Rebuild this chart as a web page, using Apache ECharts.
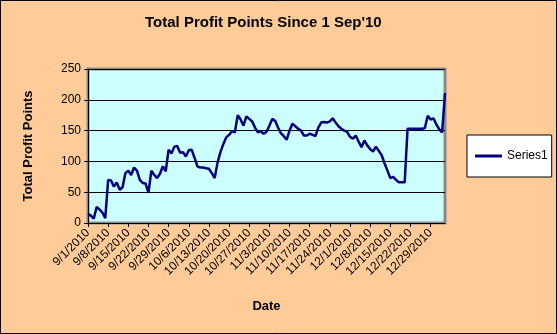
<!DOCTYPE html>
<html>
<head>
<meta charset="utf-8">
<script src="https://cdn.jsdelivr.net/npm/echarts@6/dist/echarts.min.js"></script>
<style>
html,body{margin:0;padding:0;background:#FFCC99;}
#c{width:557px;height:334px;}
</style>
</head>
<body>
<div id="c"></div>
<script>
// Daily categories from 9/1/2010 to 1/3/2011
const startDate = [2010, 8, 1];
const dayCount = 125;
const categories = [];
for (let i = 0; i < dayCount; i++) {
  const d = new Date(startDate[0], startDate[1], startDate[2] + i);
  categories.push((d.getMonth() + 1) + '/' + d.getDate() + '/' + d.getFullYear());
}
const seriesName = 'Series1';
const profitPoints = [
  15, 12, 7, 26, 22, 17, 8, 70, 69, 59,
  66, 54, 58, 81, 85, 78, 90, 85, 70, 65,
  64, 49, 85, 78, 73, 80, 92, 84, 119, 113,
  124, 125, 114, 115, 108, 118, 119, 106, 92, 90,
  90, 89, 88, 81, 73, 98, 115, 128, 139, 143,
  149, 147, 175, 168, 158, 173, 169, 165, 155, 147,
  149, 145, 148, 158, 169, 166, 155, 146, 141, 135,
  150, 161, 157, 153, 150, 142, 142, 145, 143, 141,
  155, 163, 164, 163, 165, 170, 163, 157, 153, 150,
  148, 140, 137, 142, 132, 123, 134, 126, 120, 116,
  124, 117, 110, 97, 85, 73, 75, 70, 66, 66,
  66, 153, 153, 153, 153, 153, 153, 154, 174, 168,
  170, 160, 152, 147, 211
];
const yTicks = [0, 50, 100, 150, 200, 250];

const FONT = 'Liberation Sans, Arial, sans-serif';
const chart = echarts.init(document.getElementById('c'), null, {renderer: 'canvas'});
chart.setOption({
  backgroundColor: '#FFCC99',
  animation: false,
  title: {
    text: "Total Profit Points Since 1 Sep'10",
    left: 145, top: 15, padding: 0,
    textStyle: {fontFamily: FONT, fontSize: 15, fontWeight: 'bold', color: '#000'}
  },
  legend: {
    data: [{name: seriesName, icon: 'rect'}],
    left: 467, top: 135,
    padding: [14, 4, 14, 8],
    backgroundColor: '#fff', borderColor: '#000', borderWidth: 1, borderRadius: 0,
    itemWidth: 27, itemHeight: 3,
    itemStyle: {color: '#000080'},
    textStyle: {fontFamily: FONT, fontSize: 12, color: '#000', lineHeight: 14}
  },
  grid: {
    left: 88, right: 112, top: 69, bottom: 111,
    show: true, backgroundColor: '#CCFFFF', borderColor: '#8a8a8a', borderWidth: 3
  },
  xAxis: {
    type: 'category',
    data: categories,
    boundaryGap: false,
    name: 'Date', nameLocation: 'middle', nameGap: 77,
    nameTextStyle: {fontFamily: FONT, fontSize: 13, fontWeight: 'bold', color: '#000'},
    axisLine: {lineStyle: {color: '#000', width: 1}},
    axisTick: {show: true, interval: 6, length: 4, inside: false, lineStyle: {color: '#000'}},
    axisLabel: {interval: 6, rotate: 45, margin: 8, fontFamily: FONT, fontSize: 12, color: '#000'},
    splitLine: {show: false}
  },
  yAxis: {
    type: 'value',
    min: yTicks[0], max: yTicks[yTicks.length - 1], interval: 50,
    name: 'Total Profit Points', nameLocation: 'middle', nameGap: 53, nameRotate: 90,
    nameTextStyle: {fontFamily: FONT, fontSize: 13, fontWeight: 'bold', color: '#000'},
    axisLine: {show: true, lineStyle: {color: '#000', width: 1}},
    axisTick: {show: true, length: 4, lineStyle: {color: '#000'}},
    axisLabel: {margin: 7, fontFamily: FONT, fontSize: 12, color: '#000'},
    splitLine: {show: true, lineStyle: {color: '#000', width: 1}}
  },
  series: [{
    name: seriesName,
    type: 'line',
    data: profitPoints,
    symbol: 'none',
    showSymbol: false,
    lineStyle: {color: '#000080', width: 2.5},
    itemStyle: {color: '#000080'}
  }],
  graphic: [{
    type: 'rect',
    shape: {x: 0.5, y: 0.5, width: 556, height: 333},
    style: {fill: 'none', stroke: '#000', lineWidth: 1},
    silent: true, z: 100
  }]
});
</script>
</body>
</html>
